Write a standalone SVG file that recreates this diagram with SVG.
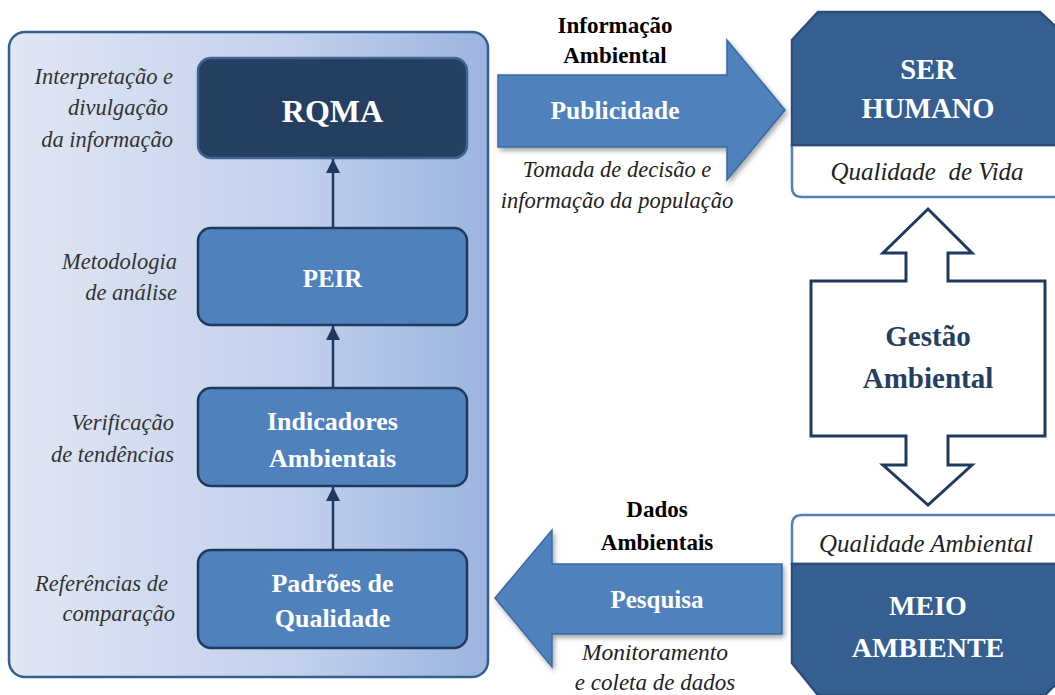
<svg xmlns="http://www.w3.org/2000/svg" width="1055" height="695" viewBox="0 0 1055 695">
<defs>
<linearGradient id="panelGrad" x1="0" y1="0" x2="1" y2="0">
<stop offset="0" stop-color="#e1e7f3"/>
<stop offset="0.6" stop-color="#c2d0ec"/>
<stop offset="1" stop-color="#9cb4e0"/>
</linearGradient>
<filter id="shadow" x="-10%" y="-10%" width="130%" height="130%">
<feDropShadow dx="2" dy="3" stdDeviation="2.5" flood-color="#000" flood-opacity="0.35"/>
</filter>
<marker id="ah" viewBox="0 0 10 10" refX="10" refY="5" markerWidth="15" markerHeight="14" markerUnits="userSpaceOnUse" orient="auto">
<path d="M0,0 L10,5 L0,10 Z" fill="#1f3a5f"/>
</marker>
</defs>
<style>
.lbl{font-family:"Liberation Serif","Times New Roman",serif;font-style:italic;font-size:22.5px;fill:#333;text-anchor:end}
.box{fill:#4f81bd;stroke:#1f3a5f;stroke-width:2.5}
.bt{font-family:"Liberation Serif","Times New Roman",serif;font-weight:bold;font-size:26px;fill:#fff;text-anchor:middle}
.hd{font-family:"Liberation Serif","Times New Roman",serif;font-weight:bold;font-size:23px;fill:#000;text-anchor:middle}
.it{font-family:"Liberation Serif","Times New Roman",serif;font-style:italic;font-size:22.5px;fill:#222;text-anchor:middle}
.big{font-family:"Liberation Serif","Times New Roman",serif;font-weight:bold;font-size:28.5px;fill:#fff;text-anchor:middle}
.conn{stroke:#1f3a5f;stroke-width:2.5;fill:none}
.barrow{fill:#4f81bd;stroke:#3a6aa3;stroke-width:1.5}
</style>

<g id="panel">
<rect x="9" y="32" width="479" height="645" rx="16" fill="url(#panelGrad)" stroke="#365f91" stroke-width="2.5"/>
<text class="lbl" x="173" y="84">Interpretação e</text>
<text class="lbl" x="168" y="115">divulgação</text>
<text class="lbl" x="173" y="147">da informação</text>
<text class="lbl" x="177" y="269">Metodologia</text>
<text class="lbl" x="177" y="300">de análise</text>
<text class="lbl" x="174" y="430">Verificação</text>
<text class="lbl" x="174" y="462">de tendências</text>
<text class="lbl" x="168" y="591">Referências de</text>
<text class="lbl" x="175" y="621">comparação</text>
</g>

<g id="rqma">
<rect x="198" y="58" width="269" height="100" rx="13" fill="#243f60" stroke="#3d6391" stroke-width="2.5"/>
<text class="bt" x="332.5" y="122" style="font-size:32px">RQMA</text>
</g>
<g id="peir">
<rect class="box" x="198" y="228" width="269" height="97" rx="13"/>
<text class="bt" x="332.5" y="287" style="font-size:25px">PEIR</text>
</g>
<g id="indicadores">
<rect class="box" x="198" y="388" width="269" height="98" rx="13"/>
<text class="bt" x="332.5" y="430">Indicadores</text>
<text class="bt" x="332.5" y="467">Ambientais</text>
</g>
<g id="padroes">
<rect class="box" x="198" y="550" width="269" height="98" rx="13"/>
<text class="bt" x="332.5" y="592">Padrões de</text>
<text class="bt" x="332.5" y="627">Qualidade</text>
</g>

<g id="connectors">
<line class="conn" x1="333" y1="228" x2="333" y2="159" marker-end="url(#ah)"/>
<line class="conn" x1="333" y1="388" x2="333" y2="326" marker-end="url(#ah)"/>
<line class="conn" x1="333" y1="550" x2="333" y2="487" marker-end="url(#ah)"/>
</g>

<g id="publicidade">
<path class="barrow" filter="url(#shadow)" d="M498,75 L727,75 L727,40 L785,110 L727,180 L727,147 L498,147 Z"/>
<text class="hd" x="615" y="33">Informação</text>
<text class="hd" x="615" y="63">Ambiental</text>
<text class="bt" x="615" y="119" style="font-size:25.5px">Publicidade</text>
<text class="it" x="617" y="177">Tomada de decisão e</text>
<text class="it" x="617" y="208">informação da população</text>
</g>

<g id="ser-humano">
<path d="M792,145 L792,187 Q792,197 802,197 L1070,197 L1070,145 Z" fill="#fff" stroke="#4f81bd" stroke-width="2.5"/>
<path d="M792,145 L792,40 L818,12 L1040,12 L1070,40 L1070,145 Z" fill="#365f91" stroke="#2b4d78" stroke-width="2.5"/>
<text class="big" x="928" y="79">SER</text>
<text class="big" x="928" y="118">HUMANO</text>
<text class="it" x="927" y="180" xml:space="preserve" style="font-size:25px">Qualidade  de Vida</text>
</g>

<g id="gestao">
<path d="M928,209 L972,253 L948,253 L948,281 L1045,281 L1045,436 L948,436 L948,465 L972,465 L928,505 L883,465 L906,465 L906,436 L811,436 L811,281 L906,281 L906,253 L883,253 Z" fill="#fff" stroke="#1f3a5f" stroke-width="3" stroke-linejoin="miter"/>
<text class="bt" x="928" y="346" style="font-size:29px;fill:#243f60">Gestão</text>
<text class="bt" x="928" y="388" style="font-size:29px;fill:#243f60">Ambiental</text>
</g>

<g id="meio-ambiente">
<path d="M792,564 L792,525 Q792,515 802,515 L1070,515 L1070,564 Z" fill="#fff" stroke="#4f81bd" stroke-width="2.5"/>
<path d="M792,564 L792,663 L818,695 L1045,695 L1070,670 L1070,564 Z" fill="#365f91" stroke="#2b4d78" stroke-width="2.5"/>
<text class="it" x="926" y="552" style="font-size:25px">Qualidade Ambiental</text>
<text class="big" x="928" y="615" style="font-size:28px">MEIO</text>
<text class="big" x="928" y="657" style="font-size:28px">AMBIENTE</text>
</g>

<g id="pesquisa">
<path class="barrow" filter="url(#shadow)" d="M782,564 L552,564 L552,530 L495,598 L552,667 L552,634 L782,634 Z"/>
<text class="hd" x="657" y="517">Dados</text>
<text class="hd" x="657" y="550">Ambientais</text>
<text class="bt" x="657" y="608" style="font-size:25px">Pesquisa</text>
<text class="it" x="655" y="660" style="font-size:23.5px">Monitoramento</text>
<text class="it" x="655" y="690" style="font-size:23px">e coleta de dados</text>
</g>
</svg>
